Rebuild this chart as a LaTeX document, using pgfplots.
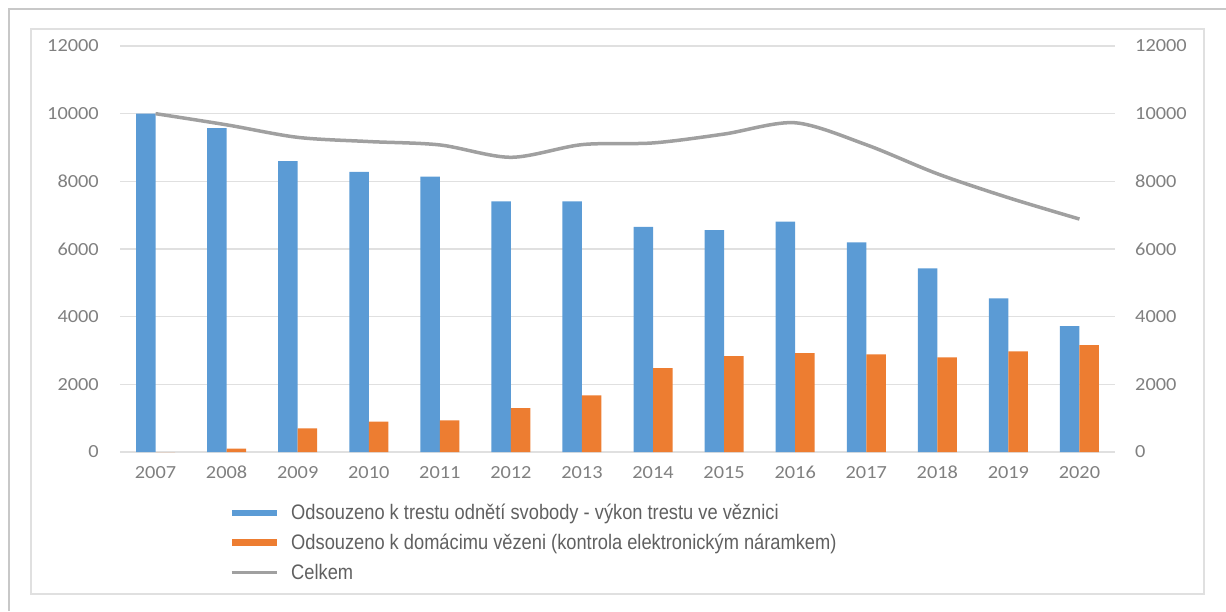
\documentclass[border=0pt]{standalone}
\usepackage{pgfplots}
\usepackage{pgfplotstable}
\pgfplotsset{compat=1.18}
\usepackage{fontspec}
\newfontfamily\tickfont[FakeStretch=1.1]{Carlito}
\newfontfamily\legfont[FakeStretch=0.87]{Liberation Sans}
\definecolor{cblue}{HTML}{5B9BD5}
\definecolor{corange}{HTML}{ED7D31}
\definecolor{cline}{RGB}{160,160,160}
\definecolor{cgrid}{RGB}{224,224,224}
\definecolor{ctick}{RGB}{128,128,128}
\definecolor{cleg}{RGB}{96,96,96}
\definecolor{cframe}{RGB}{200,200,200}

\pgfplotstableread{
x blue orange total
0 10000 0 10000
1 9570 100 9670
2 8600 700 9300
3 8280 896 9176
4 8140 936 9076
5 7410 1300 8710
6 7410 1675 9085
7 6655 2480 9135
8 6560 2837 9397
9 6806 2925 9731
10 6196 2886 9082
11 5427 2797 8224
12 4541 2975 7516
13 3723 3162 6885
}\data

\pgfplotsset{
  tickfnt/.style={font=\tickfont\fontsize{18.5}{20}\selectfont, text=ctick},
}

\begin{document}
\begin{tikzpicture}
\path[use as bounding box] (0pt,0pt) rectangle (1226pt,611pt);
\draw[cframe, line width=1.5pt] (9pt,0pt) -- (9pt,602pt) -- (1226pt,602pt);
\draw[cgrid, line width=1.5pt] (31pt,17pt) rectangle (1204pt,582pt);

\begin{axis}[
  at={(120pt,159pt)}, anchor=south west, scale only axis,
  width=995pt, height=406pt,
  xmin=-0.5, xmax=13.5, ymin=0, ymax=12000,
  axis line style={draw=none}, tick style={draw=none},
  ymajorgrids, grid style={cgrid, line width=1.3pt},
  ytick={0,2000,...,12000},
  xtick={0,...,13},
  xticklabels={2007,2008,2009,2010,2011,2012,2013,2014,2015,2016,2017,2018,2019,2020},
  scaled y ticks=false,
  yticklabel style={tickfnt, anchor=east, inner sep=0pt, xshift=-21pt,
    /pgf/number format/1000 sep={}, /pgf/number format/assume math mode=true},
  xticklabel style={tickfnt, anchor=north, inner sep=0pt, yshift=-14pt},
  bar width=19.5pt,
  legend cell align=left,
  legend style={at={(0.1106,-0.1232)}, anchor=north west, draw=none, fill=none,
    inner sep=0pt, row sep=9pt, column sep=11pt,
    font=\legfont\fontsize{21}{23}\selectfont, text=cleg},
]
\addplot[ybar, fill=cblue, draw=none, bar shift=-9.75pt,
  legend image code/.code={\fill[cblue] (0pt,-3.2pt) rectangle (45pt,3.2pt);}]
  table[x=x,y=blue]{\data};
\addlegendentry{Odsouzeno k trestu odnětí svobody - výkon trestu ve věznici}
\addplot[ybar, fill=corange, draw=none, bar shift=9.75pt,
  legend image code/.code={\fill[corange] (0pt,-3.2pt) rectangle (45pt,3.2pt);}]
  table[x=x,y=orange]{\data};
\addlegendentry{Odsouzeno k domácimu vězeni (kontrola elektronickým náramkem)}
\addplot[smooth, tension=0.5, cline, line width=3.5pt, no marks,
  legend image code/.code={\draw[cline, line width=3pt] (0pt,0pt) -- (45pt,0pt);}]
  table[x=x,y=total]{\data};
\addlegendentry{Celkem}
\end{axis}

\begin{axis}[
  at={(120pt,159pt)}, anchor=south west, scale only axis,
  width=995pt, height=406pt,
  xmin=-0.5, xmax=13.5, ymin=0, ymax=12000,
  hide x axis, axis y line*=right,
  axis line style={draw=none}, tick style={draw=none},
  ytick={0,2000,...,12000},
  scaled y ticks=false,
  yticklabel style={tickfnt, anchor=west, inner sep=0pt, xshift=20pt,
    /pgf/number format/1000 sep={}, /pgf/number format/assume math mode=true},
]
\addplot[draw=none, forget plot] coordinates {(0,0)};
\end{axis}
\end{tikzpicture}
\end{document}
